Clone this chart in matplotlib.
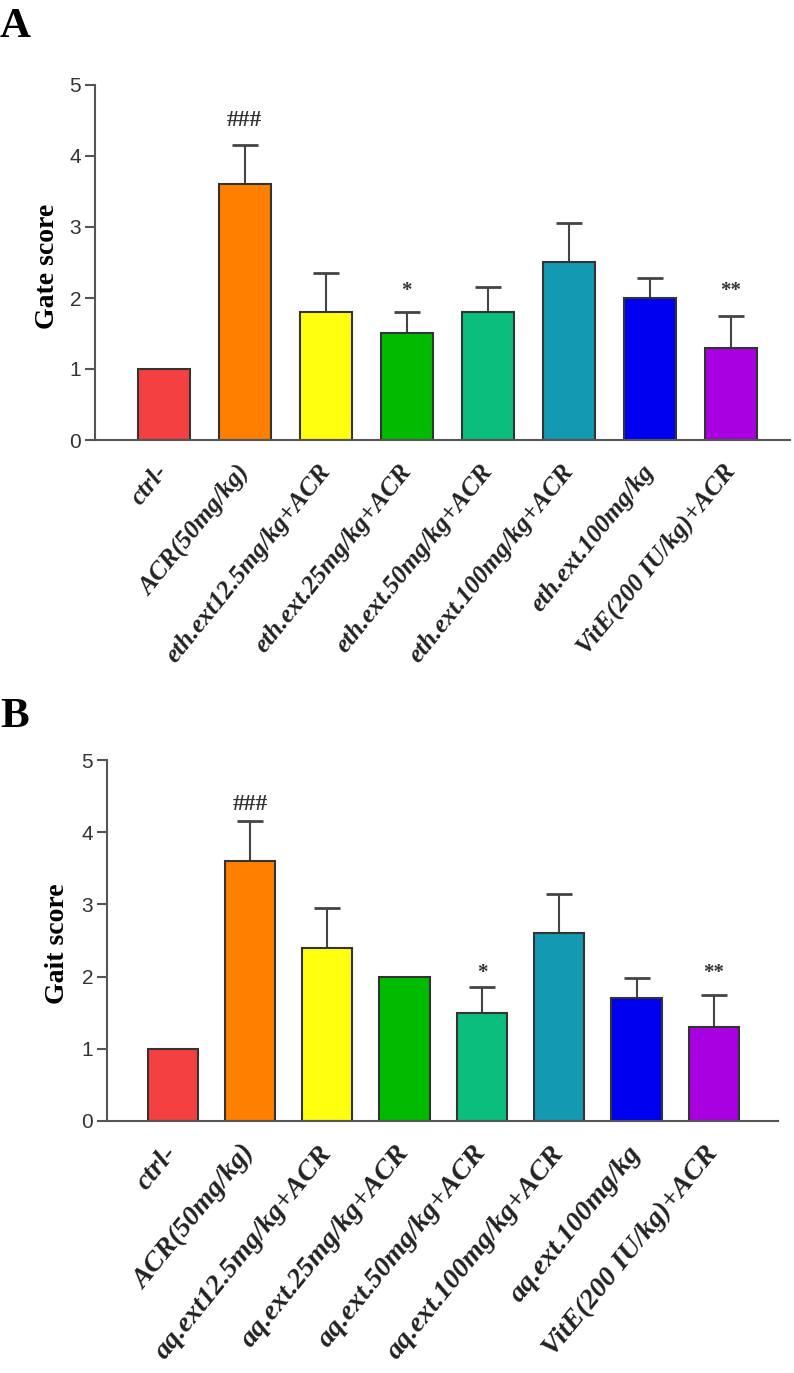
import matplotlib
matplotlib.use('Agg')
import matplotlib.pyplot as plt
import numpy as np

plt.rcParams['font.family'] = 'sans-serif'
plt.rcParams['font.sans-serif'] = ['Liberation Sans', 'DejaVu Sans']

# bar colours, shared by both panels
colors = ['#F44040', '#FF7F00', '#FFFF10', '#00BB00', '#0CBE7D', '#1399B2', '#0000F0', '#A800E0']

labels_a = ['ctrl-', 'ACR(50mg/kg)', 'eth.ext12.5mg/kg+ACR', 'eth.ext.25mg/kg+ACR',
            'eth.ext.50mg/kg+ACR', 'eth.ext.100mg/kg+ACR', 'eth.ext.100mg/kg', 'VitE(200 IU/kg)+ACR']
mean_a = [1.0, 3.6, 1.8, 1.5, 1.8, 2.5, 2.0, 1.3]
err_a = [0.0, 0.55, 0.55, 0.3, 0.35, 0.55, 0.28, 0.45]
sig_a = ['', '###', '', '*', '', '', '', '**']
sig_y_a = [0, 4.5, 0, 2.1, 0, 0, 0, 2.1]

labels_b = ['ctrl-', 'ACR(50mg/kg)', 'aq.ext12.5mg/kg+ACR', 'aq.ext.25mg/kg+ACR',
            'aq.ext.50mg/kg+ACR', 'aq.ext.100mg/kg+ACR', 'aq.ext.100mg/kg', 'VitE(200 IU/kg)+ACR']
mean_b = [1.0, 3.6, 2.4, 2.0, 1.5, 2.6, 1.7, 1.3]
err_b = [0.0, 0.55, 0.55, 0.0, 0.35, 0.55, 0.28, 0.45]
sig_b = ['', '###', '', '', '*', '', '', '**']
sig_y_b = [0, 4.38, 0, 0, 2.05, 0, 0, 2.05]

W, H = 794, 1373
fig = plt.figure(figsize=(W / 100, H / 100), dpi=100)


def draw_panel(rect, means, errs, labels, sig, sig_y, ylabel, label_x, label_size,
               letter, letter_xy, xlim):
    ax = fig.add_axes(rect)
    x = np.arange(len(means))
    ax.bar(x, means, width=0.65, color=colors, edgecolor='#333333', linewidth=1.5, zorder=2)
    for xi, m, e in zip(x, means, errs):
        if e > 0:
            ax.errorbar(xi, m, yerr=[[0], [e]], fmt='none', ecolor='#444444',
                        elinewidth=1.5, capsize=9.5, capthick=2, zorder=1)
    for xi, s, sy in zip(x, sig, sig_y):
        if s:
            ax.text(xi, sy, s, ha='center', va='center', fontsize=17 if s == '###' else 15,
                    fontweight='bold', family='Liberation Serif', color='#333333')
    ax.set_xlim(*xlim)
    ax.set_ylim(0, 5)
    ax.set_yticks(range(6))
    ax.set_xticks(x)
    ax.set_xticklabels(labels, rotation=51, ha='right', va='center', rotation_mode='anchor',
                       fontsize=label_size, fontweight='bold', fontstyle='italic',
                       family='Liberation Serif', color='#222222')
    ax.tick_params(axis='x', length=0, pad=20)
    ax.tick_params(axis='y', length=7, width=1.5, color='#555555', labelsize=15,
                   labelcolor='#333333', pad=3)
    for side in ['top', 'right']:
        ax.spines[side].set_visible(False)
    for side in ['left', 'bottom']:
        ax.spines[side].set_color('#555555')
        ax.spines[side].set_linewidth(1.5)
    ax.set_ylabel(ylabel, fontsize=20, fontweight='bold', family='Liberation Serif')
    ax.yaxis.set_label_coords(label_x, 0.49)
    fig.text(letter_xy[0], letter_xy[1], letter, fontsize=31, fontweight='bold',
             family='Liberation Serif', ha='left', va='center')
    return ax


draw_panel([95 / W, 1 - 440 / H, 695 / W, 355 / H], mean_a, err_a, labels_a, sig_a, sig_y_a,
           'Gate score', -0.050, 18.5, 'A', (0 / W, 1 - 27 / H), (-0.85, 7.73))
draw_panel([107 / W, 1 - 1121 / H, 671 / W, 361 / H], mean_b, err_b, labels_b, sig_b, sig_y_b,
           'Gait score', -0.055, 20.5, 'B', (0 / W, 1 - 717 / H), (-0.85, 7.83))

fig.savefig('out.png', dpi=100)
